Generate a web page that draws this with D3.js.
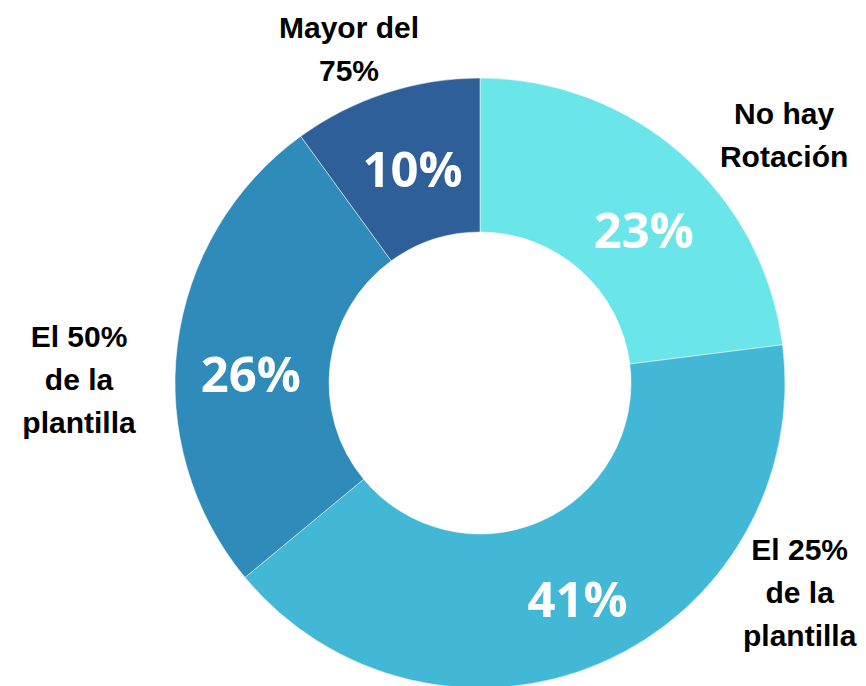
<!DOCTYPE html>
<html>
<head>
<meta charset="utf-8">
<script src="https://cdn.jsdelivr.net/npm/d3@7"></script>
<style>
  html, body { margin: 0; padding: 0; background: #fff; }
</style>
</head>
<body>
<div id="chart"></div>
<script>
// data
let categories = ["No hay Rotación", "El 25% de la plantilla", "El 50% de la plantilla", "Mayor del 75%"];
let values = [23, 41, 26, 10];
let labelLines = [["No hay", "Rotación"], ["El 25%", "de la", "plantilla"], ["El 50%", "de la", "plantilla"], ["Mayor del", "75%"]];

// layout (outer label placement, polar: degrees clockwise from top, radius)
let labelAngle = [50.7, 123.2, 270.6, 338.6];
let labelRadius = [393, 382, 401, 359];
// small nudges for the inner percentage labels, px
let pctNudge = [[13, 18], [7, 7], [-3, 20], [3, 3]];
let colors = ["#6ae5e9", "#42b7d6", "#2e8bba", "#2f5f99"];

let width = 866, height = 686;
let cx = 480, cy = 383;
let outerR = 305, innerR = 151;

let svg = d3.select("#chart")
  .append("svg")
  .attr("width", width)
  .attr("height", height);

let g = svg.append("g").attr("transform", `translate(${cx},${cy})`);

let pie = d3.pie().sort(null).value(function (d) { return d; });
let arcs = pie(values);

let arc = d3.arc().innerRadius(innerR).outerRadius(outerR);

g.selectAll(".slice")
  .data(arcs)
  .enter().append("path")
  .attr("class", "slice")
  .attr("d", arc)
  .style("fill", function (d, i) { return colors[i]; })
  .style("stroke", "#fff")
  .style("stroke-width", 0.5);

// percentage labels inside the ring
g.selectAll(".pct")
  .data(arcs)
  .enter().append("text")
  .attr("class", "pct")
  .attr("transform", function (d, i) {
    let c = arc.centroid(d);
    return `translate(${c[0] + pctNudge[i][0]},${c[1] + pctNudge[i][1]})`;
  })
  .attr("text-anchor", "middle")
  .attr("dy", "0.36em")
  .style("font-family", "'Open Sans', sans-serif")
  .style("font-weight", "700")
  .style("font-size", "49px")
  .style("fill", "#fff")
  .text(function (d) { return d.value + "%"; });

// category labels outside
let lh = 43;
let cat = g.selectAll(".cat")
  .data(categories)
  .enter().append("text")
  .attr("class", "cat")
  .attr("transform", function (d, i) {
    let p = d3.pointRadial(labelAngle[i] * Math.PI / 180, labelRadius[i]);
    return `translate(${p})`;
  })
  .attr("text-anchor", "middle")
  .style("font-family", "'Liberation Sans', Arial, sans-serif")
  .style("font-weight", "700")
  .style("font-size", "30px")
  .style("fill", "#000");

cat.each(function (d, i) {
  let lines = labelLines[i];
  let t = d3.select(this);
  lines.forEach(function (line, j) {
    t.append("tspan")
      .attr("x", 0)
      .attr("y", (j - (lines.length - 1) / 2) * lh + 11)
      .text(line);
  });
});
</script>
</body>
</html>
